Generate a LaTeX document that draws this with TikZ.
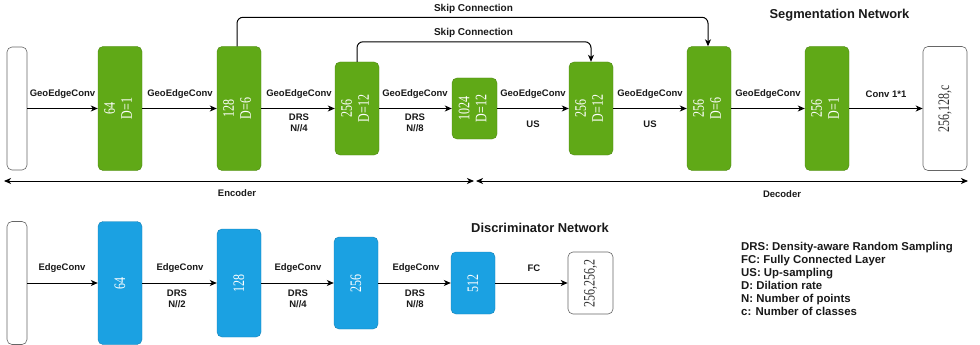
\documentclass[tikz,border=0pt]{standalone}
\usepackage{fontspec}
\setmainfont{Liberation Serif}
\setsansfont{Liberation Sans}
\usetikzlibrary{arrows.meta}
\definecolor{ggreen}{HTML}{60A917}
\definecolor{gblue}{HTML}{1BA1E2}
\definecolor{bordergray}{HTML}{666666}
\newcommand{\vtwo}[2]{\rotatebox{90}{\scalebox{0.75}[1]{\begin{tabular}{@{}c@{}}#1\\#2\end{tabular}}}}
\newcommand{\vone}[1]{\rotatebox{90}{\scalebox{0.75}[1]{#1}}}
\begin{document}
\begin{tikzpicture}[x=1pt,y=-1pt,
  every node/.style={inner sep=0pt},
  layerbox/.style={rounded corners=5pt, text=white, line width=0.4pt,
    font=\fontsize{16}{17}\selectfont, minimum width=44pt},
  gbox/.style={layerbox, fill=ggreen, draw=ggreen!80!black},
  bbox/.style={layerbox, fill=gblue, draw=gblue!80!black},
  iobox/.style={rounded corners=5pt, draw=bordergray, fill=white, line width=0.6pt,
    text=black!80, font=\fontsize{16}{17}\selectfont, minimum width=44pt},
  lbl/.style={font=\sffamily\bfseries\fontsize{9.5}{11}\selectfont, text=black!90},
  skl/.style={font=\sffamily\bfseries\fontsize{10}{12}\selectfont, text=black!90},
  ttl/.style={font=\sffamily\bfseries\fontsize{12.9}{15}\selectfont, text=black!90},
  arr/.style={line width=1pt, -{Stealth[length=7pt,width=6pt,inset=2pt]}},
  darr/.style={line width=1pt, {Stealth[length=7pt,width=6pt,inset=2pt]}-{Stealth[length=7pt,width=6pt,inset=2pt]}},
  skip/.style={line width=1pt, rounded corners=6pt, -{Stealth[length=7pt,width=6pt,inset=2pt]}}
]
\useasboundingbox (0,0) rectangle (980,345);

% ---------------- Segmentation network ----------------
\node[iobox, minimum width=20pt, minimum height=123pt] (in) at (17,108.5) {};
\node[gbox, minimum height=124pt] (g1) at (120,108.5) {\vtwo{64}{D=1}};
\node[gbox, minimum height=124pt] (g2) at (239,108.5) {\vtwo{128}{D=6}};
\node[gbox, minimum height=93pt] (g3) at (357,108.5) {\vtwo{256}{D=12}};
\node[gbox, minimum width=45pt, minimum height=61pt] (g4) at (474.5,108.5) {\vtwo{1024}{D=12}};
\node[gbox, minimum height=93pt] (g5) at (591,108.5) {\vtwo{256}{D=12}};
\node[gbox, minimum height=124pt] (g6) at (709,108.5) {\vtwo{256}{D=6}};
\node[gbox, minimum height=124pt] (g7) at (827,108.5) {\vtwo{256}{D=1}};
\node[iobox, minimum height=124pt] (out) at (945,108.5) {\vone{256,128,c}};

\draw[arr] (in) -- (g1);
\draw[arr] (g1) -- (g2);
\draw[arr] (g2) -- (g3);
\draw[arr] (g3) -- (g4);
\draw[arr] (g4) -- (g5);
\draw[arr] (g5) -- (g6);
\draw[arr] (g6) -- (g7);
\draw[arr] (g7) -- (out);

\node[lbl] (s1) at (62.5,94) {GeoEdgeConv};
\node[lbl] (s2) at (180,94) {GeoEdgeConv};
\node[lbl] (s3) at (299,94) {GeoEdgeConv};
\node[lbl, align=center] (s3b) at (299,123) {DRS\\N//4};
\node[lbl] (s4) at (415,94) {GeoEdgeConv};
\node[lbl, align=center] (s4b) at (415,123) {DRS\\N//8};
\node[lbl] (s5) at (533,94) {GeoEdgeConv};
\node[lbl] (s5b) at (533,124) {US};
\node[lbl] (s6) at (650,94) {GeoEdgeConv};
\node[lbl] (s6b) at (650,124) {US};
\node[lbl] (s7) at (768,94) {GeoEdgeConv};
\node[lbl] (s8) at (886,94) {Conv 1*1};

% skip connections
\draw[skip] ([xshift=-2pt]g2.north) -- ++(0,-29) -| ([xshift=-1pt]g6.north);
\draw[skip] (g3.north) -- ++(0,-20) -| (g5.north);
\node[skl] (sk1) at (473.5,8.5) {Skip Connection};
\node[skl] (sk2) at (473.5,33) {Skip Connection};

\node[ttl] (segt) at (839.5,15.5) {Segmentation Network};

% encoder / decoder
\coordinate (e1) at (4,181);
\coordinate (e2) at (474,181);
\coordinate (d1) at (476,181);
\coordinate (d2) at (968,181);
\draw[darr] (e1) -- (e2);
\draw[darr] (d1) -- (d2);
\node[lbl] (enc) at (237,193.5) {Encoder};
\node[lbl] (dec) at (782,194) {Decoder};

% ---------------- Discriminator network ----------------
\node[ttl] (dist) at (540,228) {Discriminator Network};

\node[iobox, minimum width=20pt, minimum height=123pt] (din) at (17,283) {};
\node[bbox, minimum height=123pt] (b1) at (120,283) {\vone{64}};
\node[bbox, minimum height=108pt] (b2) at (239,283) {\vone{128}};
\node[bbox, minimum height=92pt] (b3) at (356,283) {\vone{256}};
\node[bbox, minimum height=62pt] (b4) at (473,283) {\vone{512}};
\node[iobox, minimum width=45pt, minimum height=62pt] (dout) at (590.5,283) {\vone{256,256,2}};

\draw[arr] (din) -- (b1);
\draw[arr] (b1) -- (b2);
\draw[arr] (b2) -- (b3);
\draw[arr] (b3) -- (b4);
\draw[arr] (b4) -- (dout);

\node[lbl] (t1) at (62,268) {EdgeConv};
\node[lbl] (t2) at (180,268) {EdgeConv};
\node[lbl, align=center] (t2b) at (177,299) {DRS\\N//2};
\node[lbl] (t3) at (298,268) {EdgeConv};
\node[lbl, align=center] (t3b) at (298,299) {DRS\\N//4};
\node[lbl] (t4) at (416,268) {EdgeConv};
\node[lbl, align=center] (t4b) at (415,299) {DRS\\N//8};
\node[lbl] (t5) at (534,268) {FC};

% legend
\node[font=\sffamily\bfseries\fontsize{11.4}{13}\selectfont, text=black!90, align=left, anchor=north west] (leg) at (741,242.5) {DRS: Density-aware Random Sampling\\FC: Fully Connected Layer\\US: Up-sampling\\D: Dilation rate\\N: Number of points\\c: Number of classes};
\end{tikzpicture}
\end{document}
